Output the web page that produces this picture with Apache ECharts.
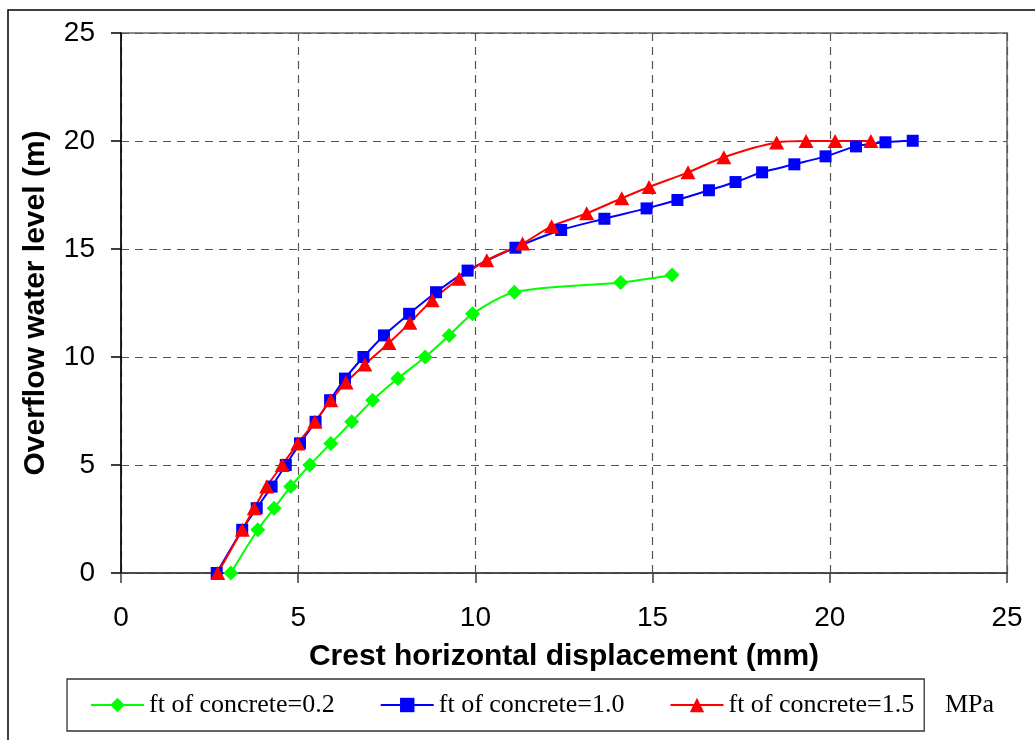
<!DOCTYPE html>
<html>
<head>
<meta charset="utf-8">
<script src="https://cdn.jsdelivr.net/npm/echarts@6/dist/echarts.min.js"></script>
<style>
html,body{margin:0;padding:0;background:#fff;}
#chart{width:1035px;height:740px;}
</style>
</head>
<body>
<div id="chart"></div>
<script>
// ---- data ----
var seriesNames = ['ft of concrete=0.2', 'ft of concrete=1.0', 'ft of concrete=1.5'];
var unitLabel = 'MPa';
var xTitle = 'Crest horizontal displacement (mm)';
var yTitle = 'Overflow water level (m)';

var greenX = [3.10, 3.86, 4.32, 4.79, 5.33, 5.92, 6.51, 7.10, 7.81, 8.58, 9.26, 9.92, 11.10, 14.10, 15.55];
var greenY = [0, 2, 3, 4, 5, 6, 7, 8, 9, 10, 11, 12, 13, 13.45, 13.80];

var blueX = [2.70, 3.42, 3.83, 4.25, 4.65, 5.05, 5.49, 5.90, 6.32, 6.84, 7.42, 8.13, 8.89, 9.78, 11.13, 12.42, 13.64, 14.83, 15.70, 16.59, 17.34, 18.09, 19.00, 19.88, 20.74, 21.57, 22.34];
var blueY = [0, 2, 3, 4, 5, 6, 7, 8, 9, 10, 11, 12, 13, 14, 15.06, 15.88, 16.40, 16.88, 17.27, 17.72, 18.10, 18.55, 18.92, 19.29, 19.75, 19.94, 20.01];

var redX = [2.73, 3.42, 3.76, 4.11, 4.55, 4.99, 5.47, 5.92, 6.35, 6.88, 7.56, 8.15, 8.78, 9.54, 10.32, 11.33, 12.15, 13.14, 14.13, 14.90, 16.00, 17.01, 18.50, 19.33, 20.15, 21.16];
var redY = [0, 2, 3, 4, 5, 6, 7, 8, 8.82, 9.65, 10.65, 11.58, 12.63, 13.62, 14.48, 15.25, 16.05, 16.65, 17.35, 17.87, 18.55, 19.25, 19.93, 20.0, 20.0, 20.0];

var xTicks = [0, 5, 10, 15, 20, 25];
var yTicks = [0, 5, 10, 15, 20, 25];

function pairs(xs, ys) { return xs.map(function (x, i) { return [x, ys[i]]; }); }

var chart = echarts.init(document.getElementById('chart'), null, {renderer: 'canvas'});

var axisFont = {fontFamily: 'Liberation Sans, Arial, sans-serif', fontSize: 28, color: '#000'};
var titleFont = {fontFamily: 'Liberation Sans, Arial, sans-serif', fontSize: 30, fontWeight: 'bold', color: '#000'};
var splitStyle = {show: true, lineStyle: {color: '#555', width: 1.2, type: [8, 6]}};

var option = {
  backgroundColor: '#fff',
  animation: false,
  grid: {
    left: 121, right: 28, top: 33, bottom: 167,
    show: true, borderColor: '#8a8a8a', borderWidth: 2, backgroundColor: 'transparent'
  },
  xAxis: {
    type: 'value', min: xTicks[0], max: xTicks[xTicks.length - 1], interval: 5,
    name: xTitle, nameLocation: 'middle', nameGap: 69, nameTextStyle: titleFont,
    axisLine: {show: true, onZero: false, lineStyle: {color: '#3a3a3a', width: 1.5}},
    axisTick: {show: true, inside: false, length: 10, lineStyle: {color: '#3a3a3a', width: 1.5}},
    axisLabel: Object.assign({margin: 31}, axisFont),
    splitLine: splitStyle
  },
  yAxis: {
    type: 'value', min: yTicks[0], max: yTicks[yTicks.length - 1], interval: 5,
    name: yTitle, nameLocation: 'middle', nameGap: 70, nameTextStyle: titleFont,
    axisLine: {show: true, onZero: false, lineStyle: {color: '#000', width: 1.5}},
    axisTick: {show: true, inside: false, length: 10, lineStyle: {color: '#000', width: 1.5}},
    axisLabel: Object.assign({margin: 26}, axisFont),
    splitLine: splitStyle
  },
  legend: {
    left: 67, top: 679,
    padding: [13, 10, 13, 23],
    itemGap: 45, itemWidth: 53, itemHeight: 18,
    borderColor: '#333', borderWidth: 1.3,
    textStyle: {fontFamily: 'Liberation Serif, Times New Roman, serif', fontSize: 26, color: '#000'},
    data: seriesNames
  },
  graphic: [
    {type: 'rect', silent: true, z: -1,
     shape: {x: 8, y: 10, width: 1100, height: 800},
     style: {fill: 'none', stroke: '#000', lineWidth: 1.5}},
    {type: 'text', left: 945, top: 692,
     style: {text: unitLabel, font: '26px "Liberation Serif", "Times New Roman", serif', fill: '#000'}}
  ],
  series: [
    {
      name: seriesNames[0], type: 'line', smooth: 0.3,
      data: pairs(greenX, greenY),
      symbol: 'diamond', symbolSize: 15,
      lineStyle: {color: '#00ff00', width: 2},
      itemStyle: {color: '#00ff00'}
    },
    {
      name: seriesNames[1], type: 'line', smooth: 0.3,
      data: pairs(blueX, blueY),
      symbol: 'rect', symbolSize: 12,
      lineStyle: {color: '#0000ff', width: 2},
      itemStyle: {color: '#0000ff'}
    },
    {
      name: seriesNames[2], type: 'line', smooth: 0.3,
      data: pairs(redX, redY),
      symbol: 'triangle', symbolSize: [15, 14],
      lineStyle: {color: '#ff0000', width: 2},
      itemStyle: {color: '#ff0000'}
    }
  ]
};
chart.setOption(option);
</script>
</body>
</html>
